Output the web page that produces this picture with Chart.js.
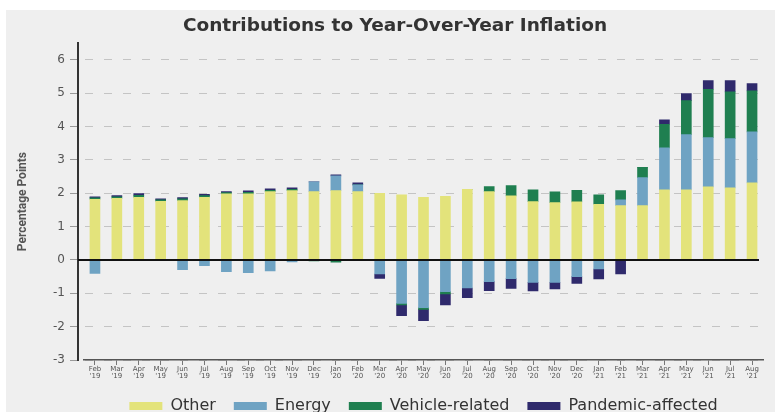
<!DOCTYPE html>
<html>
<head>
<meta charset="utf-8">
<script src="https://cdn.jsdelivr.net/npm/chart.js@4.4.0/dist/chart.umd.min.js"></script>
<style>
  html, body { margin: 0; padding: 0; background: #fff; }
  #wrap { position: relative; width: 775px; height: 412px; }
  #panel { position: absolute; left: 6px; top: 10px; right: 0; bottom: 0; background: #efefef; }
  canvas { position: absolute; left: 0; top: 0; }
</style>
</head>
<body>
<div id="wrap"><div id="panel"></div><canvas id="chart" width="775" height="412"></canvas></div>
<script>
// months, Feb '19 .. Aug '21
const months = ['Feb', 'Mar', 'Apr', 'May', 'Jun', 'Jul', 'Aug', 'Sep', 'Oct', 'Nov', 'Dec', 'Jan',
  'Feb', 'Mar', 'Apr', 'May', 'Jun', 'Jul', 'Aug', 'Sep', 'Oct', 'Nov', 'Dec', 'Jan',
  'Feb', 'Mar', 'Apr', 'May', 'Jun', 'Jul', 'Aug'];
const years = ["'19", "'19", "'19", "'19", "'19", "'19", "'19", "'19", "'19", "'19", "'19", "'20",
  "'20", "'20", "'20", "'20", "'20", "'20", "'20", "'20", "'20", "'20", "'20", "'21",
  "'21", "'21", "'21", "'21", "'21", "'21", "'21"];

// contributions, percentage points
const other = [1.82, 1.85, 1.88, 1.76, 1.78, 1.88, 1.98, 1.98, 2.05, 2.08, 2.05, 2.08,
  2.05, 2.00, 1.95, 1.88, 1.91, 2.12, 2.05, 1.92, 1.75, 1.72, 1.74, 1.67,
  1.63, 1.63, 2.10, 2.10, 2.19, 2.16, 2.31];
const energy = [-0.40, 0, 0, 0, -0.29, -0.17, -0.35, -0.38, -0.33, -0.06, 0.29, 0.44,
  0.20, -0.42, -1.30, -1.43, -0.95, -0.84, -0.65, -0.56, -0.67, -0.67, -0.50, -0.27,
  0.17, 0.84, 1.26, 1.66, 1.48, 1.48, 1.53];
const vehicle = [0.04, 0.04, 0.06, 0.04, 0.05, 0.05, 0.04, 0.05, 0.04, 0.04, -0.03, -0.07,
  0, 0, -0.05, -0.05, -0.07, 0, 0.15, 0.31, 0.35, 0.32, 0.35, 0.28,
  0.28, 0.31, 0.71, 1.02, 1.45, 1.40, 1.23];
const pandemic = [0.03, 0.04, 0.05, 0.03, 0.04, 0.04, 0.03, 0.04, 0.04, 0.04, 0, 0.03,
  0.06, -0.13, -0.32, -0.34, -0.33, -0.29, -0.27, -0.29, -0.26, -0.20, -0.20, -0.30,
  -0.42, 0, 0.13, 0.21, 0.26, 0.34, 0.22];

const labels = months.map((m, i) => [m, years[i]]);

// zero line on top of the bars, starting at the y axis
const zeroLine = {
  id: 'zeroLine',
  afterDatasetsDraw(chart) {
    const y = chart.scales.y;
    const py = Math.round(y.getPixelForValue(0));
    const c = chart.ctx;
    c.save();
    c.strokeStyle = '#111';
    c.lineWidth = 2;
    c.beginPath();
    c.moveTo(y.right, py);
    c.lineTo(chart.chartArea.right - 4, py);
    c.stroke();
    c.restore();
  }
};

// empty spacer axes
const spacer = (pos, w) => ({
  type: 'linear', position: pos, weight: 0, display: true,
  afterFit: s => { s.width = w; },
  ticks: { display: false }, grid: { display: false }, border: { display: false }
});

const ctx = document.getElementById('chart').getContext('2d');
const chart = new Chart(ctx, {
  type: 'bar',
  data: {
    labels: labels,
    datasets: [
      { label: 'Other', data: other, backgroundColor: '#e3e37b' },
      { label: 'Energy', data: energy, backgroundColor: '#6fa3c3' },
      { label: 'Vehicle-related', data: vehicle, backgroundColor: '#1f7f50' },
      { label: 'Pandemic-affected', data: pandemic, backgroundColor: '#2f2a6c' }
    ]
  },
  options: {
    responsive: false,
    animation: false,
    datasets: { bar: { barThickness: 10 } },
    layout: { padding: { left: 15, right: 0, top: 0, bottom: 0 } },
    plugins: {
      title: {
        display: true,
        text: 'Contributions to Year-Over-Year Inflation',
        color: '#333',
        font: { family: 'DejaVu Sans', size: 18.5, weight: 'bold' },
        padding: { top: 15, bottom: 6 }
      },
      legend: {
        position: 'bottom',
        align: 'center',
        fullSize: false,
        maxHeight: 32,
        labels: {
          boxWidth: 33,
          boxHeight: 8,
          padding: 18,
          color: '#333',
          font: { family: 'DejaVu Sans', size: 16 }
        }
      },
      tooltip: { enabled: false }
    },
    scales: {
      x: {
        stacked: true,
        offset: true,
        afterFit: s => { s.height = 20; },
        grid: { offset: false, drawOnChartArea: false, drawTicks: true, tickLength: 5, tickColor: '#777' },
        border: { display: true, color: '#555', width: 1.5 },
        ticks: {
          autoSkip: false, maxRotation: 0, minRotation: 0, padding: 1,
          color: '#555',
          font: { family: 'DejaVu Sans', size: 7, lineHeight: 1.0 }
        }
      },
      y: {
        stacked: true,
        min: -3,
        max: 6.5,
        weight: 1,
        afterBuildTicks: s => { s.ticks = s.ticks.filter(t => Number.isInteger(t.value)); },
        afterFit: s => { s.width = 63; },
        grid: {
          color: c => (c.tick && c.tick.value === 0) ? 'rgba(0,0,0,0)' : '#c4c4c4',
          tickLength: 8, tickWidth: 1, tickColor: '#999'
        },
        border: {
          display: true, color: '#333', width: 2,
          dash: c => (c.tick && c.tick.value !== 0) ? [8, 11] : []
        },
        ticks: {
          stepSize: 1, padding: 5, color: '#555',
          font: { family: 'DejaVu Sans', size: 12 }
        },
        title: {
          display: true,
          text: 'Percentage Points',
          color: '#555',
          font: { family: "'Liberation Sans Narrow', Roboto, sans-serif", size: 12, weight: 'bold' },
          padding: { top: 1, bottom: 0 }
        }
      },
      gapL: spacer('left', 6),
      gapR: spacer('right', 12)
    }
  },
  plugins: [zeroLine]
});
</script>
</body>
</html>
